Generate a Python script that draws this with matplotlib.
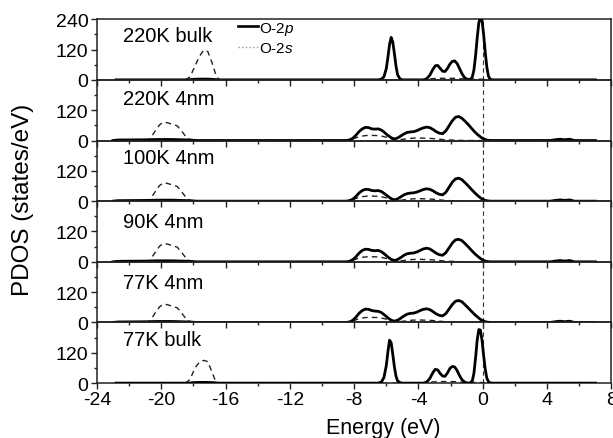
import matplotlib
matplotlib.use("Agg")
import matplotlib.pyplot as plt
from matplotlib.lines import Line2D
from matplotlib.ticker import MultipleLocator, FixedLocator

plt.rcParams['font.family'] = ['Liberation Sans', 'DejaVu Sans']
plt.rcParams['axes.unicode_minus'] = False
plt.rcParams['mathtext.fontset'] = 'custom'
plt.rcParams['mathtext.rm'] = 'Liberation Sans'
plt.rcParams['mathtext.it'] = 'Liberation Sans:italic'

# panel names, top to bottom
panels = ['220K bulk', '220K 4nm', '100K 4nm', '90K 4nm', '77K 4nm', '77K bulk']

# --- bulk: O-2p (solid) ---
x_bulk_p = [-22.8, -18.3, -18.0, -17.6, -17.2, -16.8, -16.4,
            -6.5, -6.3, -6.15, -6.0, -5.9, -5.8, -5.7, -5.6, -5.5, -5.4, -5.3, -5.15, -5.0,
            -3.7, -3.5, -3.3, -3.1, -2.95, -2.8, -2.65, -2.5, -2.35, -2.2, -2.05, -1.9,
            -1.75, -1.6, -1.45, -1.3, -1.15, -1.0, -0.85, -0.75, -0.65, -0.55, -0.45,
            -0.35, -0.25, -0.15, -0.05, 0.05, 0.15, 0.25, 0.35, 0.45, 0.6, 7.0]
p_220k_bulk = [0, 0, 2, 3, 3, 2, 0,
               0, 3, 12, 45, 90, 140, 168, 150, 105, 55, 20, 4, 0,
               0, 4, 18, 42, 56, 57, 45, 34, 33, 45, 62, 73,
               75, 65, 45, 25, 10, 3, 1, 3, 12, 40, 95,
               165, 225, 248, 235, 180, 110, 50, 15, 3, 0, 0]
p_77k_bulk = [0, 0, 2, 3, 3, 2, 0,
              0, 5, 22, 70, 125, 170, 160, 115, 65, 28, 9, 2, 0,
              0, 4, 18, 42, 55, 52, 38, 28, 27, 40, 58, 66,
              64, 50, 30, 14, 5, 1, 0, 2, 10, 40, 100,
              170, 212, 210, 170, 110, 55, 20, 6, 1, 0, 0]

# --- bulk: O-2s (dashed) ---
x_bulk_s = [-18.5, -18.2, -17.9, -17.6, -17.35, -17.1, -16.85, -16.6, -16.4,
            -3.8, -3.3, -2.8, -2.3, -1.8, -1.3, -0.8, -0.3, 0.2, 0.6]
s_220k_bulk = [0, 12, 55, 95, 118, 112, 70, 20, 0,
               0, 4, 6, 6, 6, 4, 3, 3, 2, 0]
s_77k_bulk = [0, 15, 60, 85, 90, 85, 45, 5, 0,
              0, 4, 6, 6, 6, 4, 3, 3, 2, 0]

# --- 4nm: O-2p (solid) ---
x_4nm_low = [-23.0, -22.7, -20.8, -20.3, -19.8, -19.3, -18.8, -18.2, -17.8]
x_4nm_val = [-8.5, -8.3, -8.1, -7.9, -7.7, -7.5, -7.3, -7.1, -6.9, -6.7,
             -6.5, -6.3, -6.1, -5.9, -5.7, -5.5, -5.3, -5.1, -4.9, -4.7,
             -4.5, -4.3, -4.1, -3.9, -3.7, -3.5, -3.3, -3.1, -2.9, -2.7,
             -2.5, -2.3, -2.1, -1.9, -1.7, -1.5, -1.3, -1.1, -0.9, -0.7,
             -0.5, -0.3, -0.1, 0.1, 0.3, 0.5]
x_4nm_high = [4.2, 4.5, 4.8, 5.1, 5.4, 5.7, 7.0]
p_4nm_low = [0, 2, 3, 4, 4, 4, 3, 2, 0]
p_4nm_high = [0, 3, 5, 3, 5, 0, 0]
p_220k_4nm = [0, 2, 8, 20, 35, 46, 52, 51, 46, 45,
              46, 41, 31, 20, 11, 6, 10, 18, 26, 32,
              34, 35, 39, 45, 50, 53, 51, 44, 35, 29,
              27, 38, 58, 78, 92, 95, 88, 76, 63, 48,
              34, 22, 12, 5, 1, 0]
p_100k_4nm = [0, 2, 7, 18, 32, 42, 47, 46, 42, 41,
              42, 38, 29, 19, 10, 5, 9, 17, 25, 30,
              32, 33, 36, 41, 46, 49, 47, 41, 33, 27,
              25, 35, 55, 75, 88, 91, 85, 73, 60, 46,
              33, 21, 11, 4, 1, 0]
p_90k_4nm = [0, 2, 8, 19, 34, 45, 50, 49, 45, 44,
             45, 40, 30, 19, 10, 5, 9, 17, 26, 32,
             34, 35, 39, 45, 51, 54, 51, 43, 34, 28,
             26, 36, 55, 74, 87, 89, 84, 72, 59, 45,
             32, 21, 11, 4, 1, 0]
p_77k_4nm = [0, 2, 8, 20, 36, 47, 53, 52, 47, 45,
             44, 39, 29, 18, 9, 5, 9, 17, 26, 33,
             36, 37, 41, 47, 52, 54, 51, 43, 34, 28,
             26, 35, 53, 71, 84, 87, 82, 70, 57, 44,
             31, 20, 10, 4, 1, 0]

# --- 4nm: O-2s (dashed) ---
x_4nm_s = [-21.0, -20.7, -20.4, -20.1, -19.85, -19.6, -19.3, -19.0, -18.7, -18.4, -18.1,
           -8.4, -8.0, -7.6, -7.2, -6.8, -6.4, -6.0, -5.6, -5.2, -4.8,
           -4.4, -4.0, -3.6, -3.2, -2.8, -2.4, -2.0, -1.6, -1.2, -0.8,
           4.2, 4.5, 4.8, 5.1, 5.4, 5.7]
s_4nm = [0, 6, 35, 62, 73, 70, 64, 58, 35, 10, 0,
         0, 8, 17, 20, 20, 19, 13, 5, 3, 6,
         9, 10, 9, 8, 6, 3, 2, 1, 0, 0,
         0, 3, 5, 3, 5, 0]

x_4nm_p = x_4nm_low + x_4nm_val + x_4nm_high
curves = [
    (x_bulk_p, p_220k_bulk, x_bulk_s, s_220k_bulk),
    (x_4nm_p, p_4nm_low + p_220k_4nm + p_4nm_high, x_4nm_s, s_4nm),
    (x_4nm_p, p_4nm_low + p_100k_4nm + p_4nm_high, x_4nm_s, s_4nm),
    (x_4nm_p, p_4nm_low + p_90k_4nm + p_4nm_high, x_4nm_s, s_4nm),
    (x_4nm_p, p_4nm_low + p_77k_4nm + p_4nm_high, x_4nm_s, s_4nm),
    (x_bulk_p, p_77k_bulk, x_bulk_s, s_77k_bulk),
]
label_y = [0.64, 0.60, 0.63, 0.58, 0.57, 0.63]

fig = plt.figure(figsize=(6.13, 4.39), dpi=100)
gs = fig.add_gridspec(6, 1, left=0.158, right=0.9975, top=0.954, bottom=0.125, hspace=0)

axes = []
for i, (xp, yp, xs, ys) in enumerate(curves):
    ax = fig.add_subplot(gs[i])
    ax.set_facecolor('none')
    ax.plot(xs, ys, color='#222222', lw=1.0, linestyle=(0, (4, 3)), zorder=2)
    ax.plot(xp, yp, color='black', lw=2.0, zorder=3)
    ax.axvline(0, color='#333333', lw=0.8, linestyle=(0, (4, 3)), zorder=1)
    ax.set_xlim(-24, 8)
    ax.set_ylim(0, 240)

    ax.xaxis.set_major_locator(MultipleLocator(4))
    ax.xaxis.set_minor_locator(MultipleLocator(2))
    if i == 0:
        ax.yaxis.set_major_locator(FixedLocator([0, 120, 240]))
    else:
        ax.yaxis.set_major_locator(FixedLocator([0, 120]))
    ax.yaxis.set_minor_locator(FixedLocator([60, 180]))
    ax.tick_params(which='both', direction='out', width=1.0, colors='#222222',
                   labelcolor='black', labelsize=14, pad=2)
    ax.tick_params(which='major', length=4)
    ax.tick_params(which='minor', length=2.5)
    if i < len(curves) - 1:
        ax.tick_params(axis='x', labelbottom=False)
    for sp in ax.spines.values():
        sp.set_linewidth(1.1)
        sp.set_color('#222222')

    ax.text(-22.4, label_y[i], panels[i], transform=ax.get_xaxis_transform(),
            fontsize=14.5, va='baseline', ha='left')
    axes.append(ax)

handles = [Line2D([], [], color='black', lw=1.9),
           Line2D([], [], color='#999999', lw=1.0, linestyle=':')]
axes[0].legend(handles, ['O-2$\\it{p}$', 'O-2$\\it{s}$'], loc='upper left',
               bbox_to_anchor=(0.275, 0.99), frameon=False, fontsize=11,
               borderaxespad=0, borderpad=0, handlelength=1.3,
               handletextpad=0.05, labelspacing=0.3)

fig.text(383 / 613, 1 - 429 / 439, 'Energy (eV)', fontsize=15.5, ha='center', va='center')
fig.text(0.037, 0.545, 'PDOS (states/eV)', fontsize=17.5, rotation=90,
         ha='center', va='center')

fig.savefig('out.png', dpi=100)
